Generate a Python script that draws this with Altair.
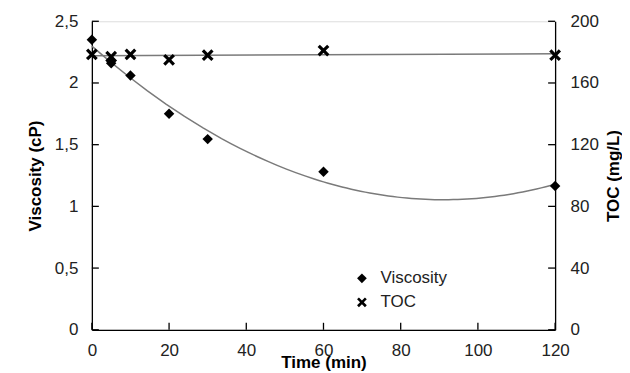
import altair as alt
import pandas as pd

# ---- data ----
time = [0, 5, 10, 20, 30, 60, 120]
viscosity = [2.35, 2.16, 2.06, 1.75, 1.545, 1.28, 1.165]
toc = [178.5, 177, 178.5, 175, 178, 181, 178]
series_names = ["Viscosity", "TOC"]
x_ticks = [0, 20, 40, 60, 80, 100, 120]
y_ticks = [0, 0.5, 1, 1.5, 2, 2.5]
toc_ticks = [0, 40, 80, 120, 160, 200]

W, H = 464, 309
FONT = "Liberation Sans"
LBL = "#222222"
X_PATH = ("M-1,-0.62L-0.62,-1L0,-0.38L0.62,-1L1,-0.62L0.38,0L1,0.62L0.62,1"
          "L0,0.38L-0.62,1L-1,0.62L-0.38,0Z")

df = pd.DataFrame({"time": time, "viscosity": viscosity, "toc": toc})
xt = pd.DataFrame({"t": x_ticks})
yt = pd.DataFrame({"v": y_ticks})

xscale = alt.Scale(domain=[0, 120], nice=False, zero=False)
yscale = alt.Scale(domain=[0, 2.5], nice=False)
tscale = alt.Scale(domain=[0, 200], nice=False)

common = dict(domainColor="black", domainWidth=1.3, ticks=False, grid=False,
              labelFont=FONT, labelFontSize=17, labelColor=LBL,
              titleFont=FONT, titleFontSize=17, titleFontWeight="bold", titleColor="black")

xax = alt.Axis(values=x_ticks, title="Time (min)", labelPadding=13,
               titleY=38, titleBaseline="alphabetic", labelFlush=False, **common)
yax = alt.Axis(values=y_ticks, title="Viscosity (cP)", labelPadding=14, titlePadding=10,
               labelExpr="replace(format(datum.value, '~g'), '.', ',')", **common)
tax = alt.Axis(values=toc_ticks, title="TOC (mg/L)", orient="right", labelPadding=15,
               titlePadding=24, titleAngle=270, **common)

shape_scale = alt.Scale(domain=series_names, range=["diamond", X_PATH])
legend = alt.Legend(title=None, orient="none", legendX=262, legendY=249,
                    labelFont=FONT, labelFontSize=17, labelColor=LBL, labelOffset=10,
                    symbolSize=95, symbolFillColor="black", symbolStrokeWidth=0,
                    rowPadding=6, padding=0)

X = alt.X("time:Q", scale=xscale, axis=xax)

visc_pts = alt.Chart(df).transform_calculate(series="'Viscosity'").mark_point(
    filled=True, color="black", strokeWidth=0, size=110, opacity=1
).encode(
    x=X,
    y=alt.Y("viscosity:Q", scale=yscale, axis=yax),
    shape=alt.Shape("series:N", scale=shape_scale, legend=legend),
)

visc_fit = alt.Chart(df).transform_regression(
    "time", "viscosity", method="poly", order=2
).mark_line(color="#7a7a7a", strokeWidth=1.5).encode(
    x=X, y=alt.Y("viscosity:Q", scale=yscale, axis=yax)
)

left_ticks = alt.Chart(yt).mark_rule(color="black", strokeWidth=1.3).encode(
    y=alt.Y("v:Q", scale=yscale, axis=yax), x=alt.value(0), x2=alt.value(7)
)
right_ticks = alt.Chart(yt).mark_rule(color="black", strokeWidth=1.3).encode(
    y=alt.Y("v:Q", scale=yscale, axis=yax), x=alt.value(W - 7), x2=alt.value(W)
)
bottom_ticks = alt.Chart(xt).mark_rule(color="black", strokeWidth=1.3).encode(
    x=alt.X("t:Q", scale=xscale, axis=xax), y=alt.value(H - 7), y2=alt.value(H)
)

toc_fit = alt.Chart(df).transform_regression(
    "time", "toc", method="linear"
).mark_line(color="#7a7a7a", strokeWidth=1.5).encode(
    x=X, y=alt.Y("toc:Q", scale=tscale, axis=tax)
)
toc_pts = alt.Chart(df).transform_calculate(series="'TOC'").mark_point(
    filled=True, color="black", strokeWidth=0, size=140, opacity=1
).encode(
    x=X,
    y=alt.Y("toc:Q", scale=tscale, axis=tax),
    shape=alt.Shape("series:N", scale=shape_scale, legend=legend),
)

left = alt.layer(visc_fit, left_ticks, right_ticks, bottom_ticks, visc_pts)
right = alt.layer(toc_fit, toc_pts)

chart = alt.layer(left, right).resolve_scale(y="independent", shape="shared").properties(
    width=W, height=H,
    padding={"left": 18, "top": 4, "right": 0, "bottom": 5},
).configure_view(strokeWidth=0).configure(background="white")

chart.save("out.html", embed_options={"renderer": "svg", "actions": False})
